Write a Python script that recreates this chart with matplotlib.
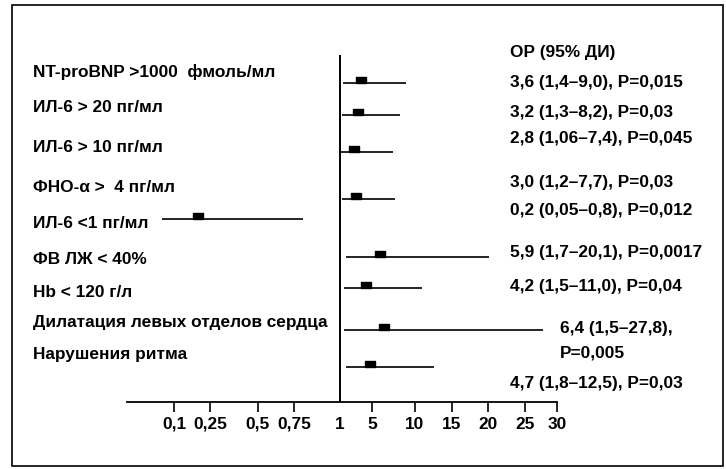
import numpy as np
import matplotlib
matplotlib.use("Agg")
import matplotlib.pyplot as plt
from matplotlib.path import Path
from matplotlib.patches import Rectangle

plt.rcParams['font.family'] = ['Liberation Sans', 'DejaVu Sans']
plt.rcParams['font.weight'] = 'bold'

# ---------------- data ----------------
labels = ["NT-proBNP >1000  фмоль/мл", "ИЛ-6 > 20 пг/мл", "ИЛ-6 > 10 пг/мл",
          "ФНО-α >  4 пг/мл", "ИЛ-6 <1 пг/мл", "ФВ ЛЖ < 40%", "Hb < 120 г/л",
          "Дилатация левых отделов сердца", "Нарушения ритма"]
odds = [3.6, 3.2, 2.8, 3.0, 0.2, 5.9, 4.2, 6.4, 4.7]
ci_low = [1.4, 1.3, 1.06, 1.2, 0.05, 1.7, 1.5, 1.5, 1.8]
ci_high = [9.0, 8.2, 7.4, 7.7, 0.8, 20.1, 11.0, 27.8, 12.5]
p_values = ["0,015", "0,03", "0,045", "0,03", "0,012", "0,0017", "0,04", "0,005", "0,03"]
tick_values = [0.1, 0.25, 0.5, 0.75, 1, 5, 10, 15, 20, 25, 30]
tick_labels = ["0,1", "0,25", "0,5", "0,75", "1", "5", "10", "15", "20", "25", "30"]
header = "ОР (95% ДИ)"

# ---------------- layout (pixels) ----------------
W, H = 726, 469
tick_pos = np.array([174, 210, 258, 294, 340, 372, 415, 452, 488, 525, 557], float)
tv = np.array(tick_values, float)
line_y = [83, 115, 152, 199, 219, 257, 288, 330, 367]
label_y = [72, 108, 147, 187, 223, 260, 292, 322, 355]
annot_y = [83, 112, 138, 183, 210, 252, 287, 328, 383]
annot_x = [510, 510, 510, 510, 510, 510, 510, 560, 510]
split_rows = {7: 353}
FS = 12.4


def fwd(v):
    v = np.asarray(v, float)
    out = np.interp(v, tv, tick_pos)
    s0 = (tick_pos[1] - tick_pos[0]) / (tv[1] - tv[0])
    s1 = (tick_pos[-1] - tick_pos[-2]) / (tv[-1] - tv[-2])
    out = np.where(v < tv[0], tick_pos[0] + (v - tv[0]) * s0, out)
    out = np.where(v > tv[-1], tick_pos[-1] + (v - tv[-1]) * s1, out)
    return out


def inv(p):
    p = np.asarray(p, float)
    out = np.interp(p, tick_pos, tv)
    s0 = (tv[1] - tv[0]) / (tick_pos[1] - tick_pos[0])
    s1 = (tv[-1] - tv[-2]) / (tick_pos[-1] - tick_pos[-2])
    out = np.where(p < tick_pos[0], tv[0] + (p - tick_pos[0]) * s0, out)
    out = np.where(p > tick_pos[-1], tv[-1] + (p - tick_pos[-1]) * s1, out)
    return out


def fmt(v):
    s = f"{v:.2f}".rstrip("0")
    if s.endswith("."):
        s += "0"
    return s.replace(".", ",")


fig = plt.figure(figsize=(W / 100, H / 100), dpi=100)
ax = fig.add_axes([127 / W, (H - 402) / H, (557 - 127) / W, (402 - 55) / H])
ax.set_xscale("function", functions=(fwd, inv))
ax.set_xlim(float(inv(127)), 30)
ax.set_ylim(402, 55)

for s in ["top", "right", "left"]:
    ax.spines[s].set_visible(False)
ax.spines["bottom"].set_linewidth(1.3)
ax.set_yticks([])
ax.set_xticks(tick_values)
ax.set_xticklabels(tick_labels, fontsize=FS)
ax.xaxis.set_minor_locator(matplotlib.ticker.NullLocator())
ax.tick_params(axis="x", direction="out", length=7.5, width=1.2, pad=3, colors="black")
ax.xaxis.get_major_ticks()[4].tick1line.set_visible(False)

ax.axvline(1, color="black", lw=1.4)

box = Path([(-1, 0), (1, 0), (1, 1.1), (-1, 1.1), (-1, 0)],
           [Path.MOVETO, Path.LINETO, Path.LINETO, Path.LINETO, Path.CLOSEPOLY])

for i in range(len(labels)):
    y = line_y[i]
    ax.plot([ci_low[i], ci_high[i]], [y, y], color="black", lw=1.2, solid_capstyle="butt")
    ax.plot([odds[i]], [y], marker=box, markersize=8.6, color="black", linestyle="none")
    fig.text(33 / W, 1 - label_y[i] / H, labels[i], fontsize=FS, va="center", ha="left")
    txt = f"{fmt(odds[i])} ({fmt(ci_low[i])}–{fmt(ci_high[i])}), P={p_values[i]}"
    if i in split_rows:
        first, second = txt.split(" P=")
        fig.text(annot_x[i] / W, 1 - annot_y[i] / H, first, fontsize=FS, va="center")
        fig.text(annot_x[i] / W, 1 - split_rows[i] / H, "P=" + second, fontsize=FS, va="center")
    else:
        fig.text(annot_x[i] / W, 1 - annot_y[i] / H, txt, fontsize=FS, va="center")

fig.text(510 / W, 1 - 53 / H, header, fontsize=FS, va="center")

fig.patches.append(Rectangle((12 / W, 1 - 466 / H), (723 - 12) / W, (466 - 5) / H,
                             transform=fig.transFigure, fill=False, lw=1.2, ec="black"))

fig.savefig("out.png", dpi=100)
